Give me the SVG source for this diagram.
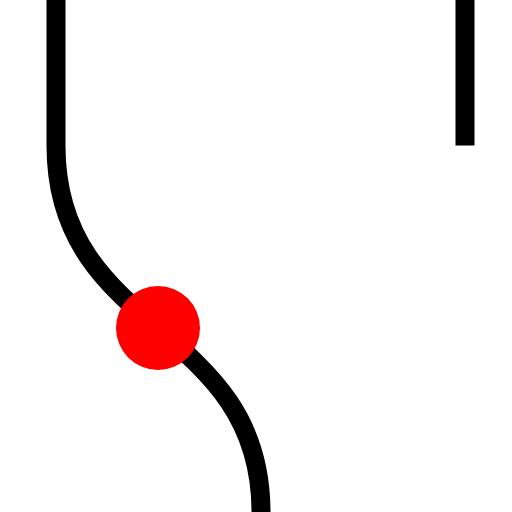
<svg xmlns="http://www.w3.org/2000/svg" width="512" height="512" viewBox="0 0 512 512">
<style>
.track{fill:none;stroke:#000;stroke-width:19;stroke-linecap:butt}
.dot{fill:#f00}
</style>
<rect width="512" height="512" fill="#fff"/>
<g id="connectors">
<path class="track" d="M56,0 V146"/>
<path class="track" d="M56,146 C56,335 261,323 261,512"/>
<path class="track" d="M465,0 V145.5"/>
</g>
<g id="node-dot">
<circle class="dot" cx="158" cy="328" r="42"/>
</g>
</svg>
